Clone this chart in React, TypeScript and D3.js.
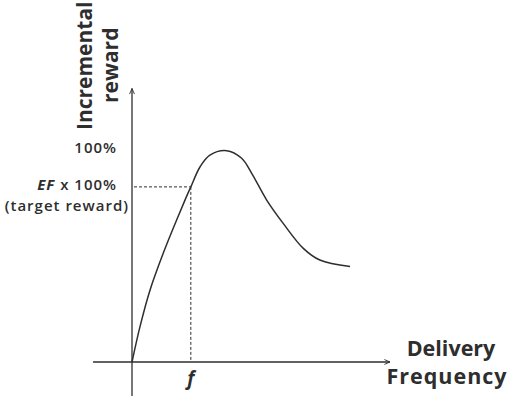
import * as d3 from "d3";
import React from "react";

// delivery frequency (0-100 along x) vs incremental reward (% of max)
const freq = [0, 3.1, 7.0, 12.1, 17.3, 20.9, 22.8, 26.4, 30.2, 36.7, 42.5, 46.4, 52.2, 58.6, 66.4, 72.8, 84.5];
const reward = [0, 16.7, 34, 51.3, 67, 77.4, 82.6, 92.1, 97.6, 99.7, 96.1, 89, 76.4, 65.4, 53.6, 48.1, 45];

const targetFreq = 22.8;
const targetReward = 82.6;

const yTickLabels = ["100%"];
const xLabel = ["Delivery", "Frequency"];
const yLabel = ["Incremental", "reward"];

const W = 510;
const H = 396;
const ink = "#2e2e2e";
const font = "'Open Sans', sans-serif";

export default function App() {
  const x = d3.scaleLinear().domain([0, 100]).range([132, 390]);
  const y = d3.scaleLinear().domain([0, 100]).range([362, 150]);

  const pts: [number, number][] = freq.map((f, i) => [f, reward[i]]);
  const line = d3.line<[number, number]>()
    .x(d => x(d[0]))
    .y(d => y(d[1]))
    .curve(d3.curveCatmullRom.alpha(0.5));

  const xAxisStart = x(-15.1);
  const xAxisEnd = x(100);
  const yAxisBottom = y(-16);
  const yAxisTop = y(129);

  return (
    <svg width={W} height={H} style={{ position: "absolute", left: 0, top: 0 }}>
      <defs>
        <marker id="arr" viewBox="0 0 10 10" refX="9" refY="5" markerWidth="7" markerHeight="7"
          orient="auto" markerUnits="userSpaceOnUse">
          <path d="M1,1.5 L9,5 L1,8.5" fill="none" stroke={ink} strokeWidth="1.3" />
        </marker>
      </defs>

      {/* axes */}
      <line x1={xAxisStart} y1={y(0)} x2={xAxisEnd} y2={y(0)} stroke={ink} strokeWidth={1.5}
        markerEnd="url(#arr)" />
      <line x1={x(0)} y1={yAxisBottom} x2={x(0)} y2={yAxisTop} stroke={ink} strokeWidth={1.3}
        markerEnd="url(#arr)" />

      {/* target guides */}
      <line x1={x(0) + 2} y1={y(targetReward)} x2={x(targetFreq)} y2={y(targetReward)}
        stroke={ink} strokeWidth={1} strokeDasharray="3,2" />
      <line x1={x(targetFreq)} y1={y(targetReward)} x2={x(targetFreq)} y2={y(0)}
        stroke={ink} strokeWidth={1} strokeDasharray="3,2" />

      <path d={line(pts) || ""} fill="none" stroke={ink} strokeWidth={1.5} />

      {/* y labels */}
      <g fontFamily={font} fontWeight={600} fill={ink} fontSize={15} textAnchor="end" letterSpacing={1}>
        <text x={117} y={y(100) + 3}>{yTickLabels[0]}</text>
        <text x={117} y={y(targetReward) + 3.5}>
          <tspan fontStyle="italic" fontWeight={700}>EF</tspan>
          <tspan> x 100%</tspan>
        </text>
        <text x={129} y={y(targetReward) + 24.5}>(target reward)</text>
      </g>

      {/* f tick */}
      <text x={x(targetFreq)} y={385} textAnchor="middle" fontFamily={font} fontWeight={700}
        fontStyle="italic" fontSize={19} fill={ink}>f</text>

      {/* axis titles */}
      <g fontFamily={font} fontWeight={700} fill={ink} fontSize={21.5} textAnchor="middle">
        <text x={451} y={356}>{xLabel[0]}</text>
        <text x={447} y={384} letterSpacing={1}>{xLabel[1]}</text>
      </g>
      <g fontFamily={font} fontWeight={700} fill={ink} fontSize={21}>
        <text transform="translate(92,130) rotate(-90)">{yLabel[0]}</text>
        <text transform="translate(118,103) rotate(-90)">{yLabel[1]}</text>
      </g>
    </svg>
  );
}
